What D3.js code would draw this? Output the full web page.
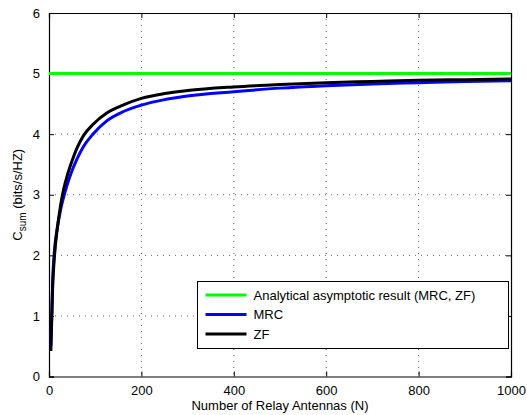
<!DOCTYPE html>
<html>
<head>
<meta charset="utf-8">
<script src="https://cdn.jsdelivr.net/npm/d3@7"></script>
<style>
  body { margin: 0; background: #fff; }
  svg { display: block; font-family: "Liberation Sans", Arial, sans-serif; }
  .tick text { font-size: 13px; fill: #000; }
</style>
</head>
<body>
<svg id="chart"></svg>
<script>
// data
const antennas = [4, 8, 12, 18, 25, 32, 40, 50, 60, 75, 95, 125, 160, 200, 250, 300, 400, 500, 600, 700, 800, 900, 1000];
const zfValues = [0.42, 1.5, 2.0, 2.45, 2.82, 3.1, 3.33, 3.56, 3.76, 3.98, 4.16, 4.35, 4.48, 4.59, 4.67, 4.72, 4.78, 4.82, 4.85, 4.87, 4.89, 4.9, 4.91];
const mrcValues = [0.5, 1.6, 2.1, 2.45, 2.75, 2.97, 3.18, 3.4, 3.58, 3.8, 4.0, 4.22, 4.37, 4.48, 4.57, 4.63, 4.7, 4.76, 4.8, 4.83, 4.85, 4.87, 4.88];
const asymptote = 5;
const xTicks = [0, 200, 400, 600, 800, 1000];
const yTicks = [0, 1, 2, 3, 4, 5, 6];
const legendLabels = ["Analytical asymptotic result (MRC, ZF)", "MRC", "ZF"];
const legendColors = ["#00ff00", "#0000ff", "#000000"];

const width = 527, height = 415;
const margin = { top: 13, right: 16, bottom: 38.5, left: 49 };
const innerW = width - margin.left - margin.right;
const innerH = height - margin.top - margin.bottom;

const svg = d3.select("#chart")
  .attr("width", width)
  .attr("height", height);

const g = svg.append("g")
  .attr("transform", `translate(${margin.left},${margin.top})`);

const x = d3.scaleLinear().domain([0, 1000]).range([0, innerW]);
const y = d3.scaleLinear().domain([0, 6]).range([innerH, 0]);

// dotted grid
g.append("g")
  .selectAll("line.vgrid")
  .data(xTicks.slice(1, -1))
  .enter()
  .append("line")
  .attr("x1", d => x(d)).attr("x2", d => x(d))
  .attr("y1", 0).attr("y2", innerH)
  .attr("stroke", "#666")
  .attr("stroke-width", 1)
  .attr("stroke-dasharray", "1,5");

g.append("g")
  .selectAll("line.hgrid")
  .data(yTicks.slice(1, -1))
  .enter()
  .append("line")
  .attr("x1", 0).attr("x2", innerW)
  .attr("y1", d => y(d)).attr("y2", d => y(d))
  .attr("stroke", "#666")
  .attr("stroke-width", 1)
  .attr("stroke-dasharray", "1,5");

// axes, ticks pointing inward like matlab
const xAxis = g.append("g")
  .attr("transform", `translate(0,${innerH})`)
  .call(d3.axisBottom(x).tickValues(xTicks).tickSize(-5).tickPadding(9).tickFormat(d3.format("d")));
const xAxisTop = g.append("g")
  .call(d3.axisTop(x).tickValues(xTicks).tickSize(-5).tickFormat(""));
const yAxis = g.append("g")
  .call(d3.axisLeft(y).tickValues(yTicks).tickSize(-5).tickPadding(9).tickFormat(d3.format("d")));
const yAxisRight = g.append("g")
  .attr("transform", `translate(${innerW},0)`)
  .call(d3.axisRight(y).tickValues(yTicks).tickSize(-5).tickFormat(""));

[xAxis, xAxisTop, yAxis, yAxisRight].forEach(a => {
  a.select(".domain").attr("stroke", "#000").attr("stroke-width", 1.2);
  a.selectAll(".tick line").attr("stroke", "#000");
});

// curves
const line = d3.line()
  .x((d, i) => x(antennas[i]))
  .y(d => y(d))
  .curve(d3.curveMonotoneX);

g.append("line")
  .attr("x1", x(0)).attr("x2", x(1000))
  .attr("y1", y(asymptote)).attr("y2", y(asymptote))
  .attr("stroke", legendColors[0])
  .attr("stroke-width", 3);

g.append("path")
  .datum(mrcValues)
  .attr("d", line)
  .attr("fill", "none")
  .attr("stroke", legendColors[1])
  .attr("stroke-width", 3);

g.append("path")
  .datum(zfValues)
  .attr("d", line)
  .attr("fill", "none")
  .attr("stroke", legendColors[2])
  .attr("stroke-width", 3);

// axis labels
svg.append("text")
  .attr("x", margin.left + innerW / 2)
  .attr("y", 410)
  .attr("text-anchor", "middle")
  .style("font-size", "13px")
  .text("Number of Relay Antennas (N)");

const yLabel = svg.append("text")
  .attr("transform", `translate(22,${margin.top + innerH / 2}) rotate(-90)`)
  .attr("text-anchor", "middle")
  .style("font-size", "13px");
yLabel.append("tspan").text("C");
yLabel.append("tspan").attr("dy", 4).style("font-size", "10px").text("sum");
yLabel.append("tspan").attr("dy", -4).text(" (bits/s/HZ)");

// legend
const legend = svg.append("g")
  .attr("transform", "translate(197.5,281.5)");

legend.append("rect")
  .attr("width", 311)
  .attr("height", 67)
  .attr("fill", "#fff")
  .attr("stroke", "#000")
  .attr("stroke-width", 1);

const rows = legend.selectAll("g.row")
  .data(legendLabels)
  .enter()
  .append("g")
  .attr("transform", (d, i) => `translate(0,${13.5 + i * 19.5})`);

rows.append("line")
  .attr("x1", 8).attr("x2", 49)
  .attr("stroke", (d, i) => legendColors[i])
  .attr("stroke-width", 3);

rows.append("text")
  .attr("x", 56)
  .attr("y", 4.5)
  .style("font-size", "13px")
  .text(d => d);
</script>
</body>
</html>
